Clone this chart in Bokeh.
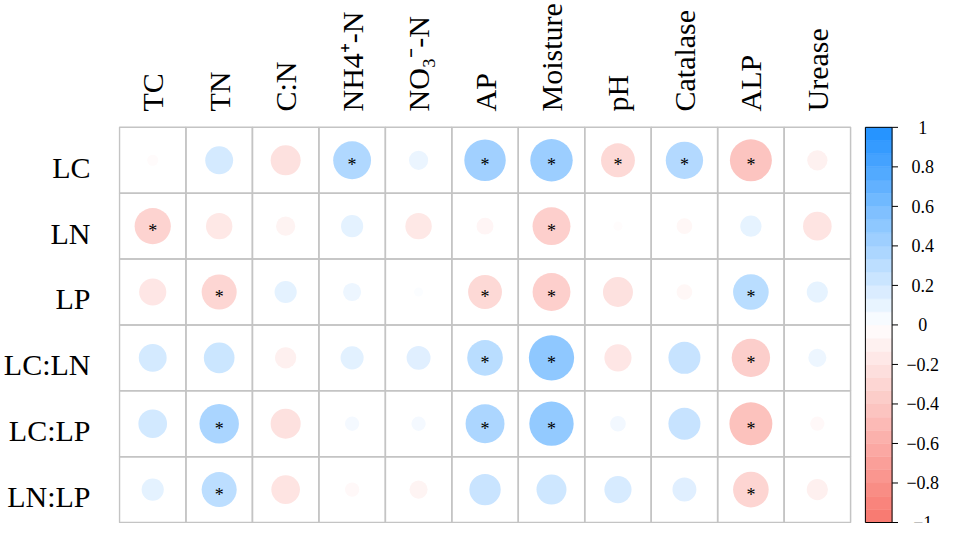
import math
from bokeh.plotting import figure
from bokeh.models import ColumnDataSource, LinearColorMapper, FixedTicker, Range1d
from bokeh.transform import transform
from bokeh.core.properties import value
from bokeh.embed import file_html
from bokeh.resources import INLINE

# ---- data ----
cols = ["TC", "TN", "C:N", "NH4\u207A-N", "NO\u2083\u207B-N", "AP",
        "Moisture", "pH", "Catalase", "ALP", "Urease"]
rows = ["LC", "LN", "LP", "LC:LN", "LC:LP", "LN:LP"]

r_LC   = [-0.03, 0.19, -0.22, 0.35, 0.09, 0.42, 0.44, -0.28, 0.34, -0.43, -0.10]
r_LN   = [-0.32, -0.17, -0.09, 0.12, -0.17, -0.07, -0.35, -0.02, -0.06, 0.11, -0.20]
r_LP   = [-0.18, -0.30, 0.12, 0.08, 0.02, -0.28, -0.35, -0.22, -0.06, 0.31, 0.11]
r_LCLN = [0.19, 0.23, -0.11, 0.13, 0.14, 0.31, 0.50, -0.18, 0.25, -0.36, 0.08]
r_LCLP = [0.20, 0.38, -0.22, 0.05, 0.05, 0.37, 0.48, 0.06, 0.25, -0.45, -0.05]
r_LNLP = [0.12, 0.30, -0.20, -0.05, -0.08, 0.24, 0.22, 0.18, 0.14, -0.31, -0.11]

sig_LC   = [0, 0, 0, 1, 0, 1, 1, 1, 1, 1, 0]
sig_LN   = [1, 0, 0, 0, 0, 0, 1, 0, 0, 0, 0]
sig_LP   = [0, 1, 0, 0, 0, 1, 1, 0, 0, 1, 0]
sig_LCLN = [0, 0, 0, 0, 0, 1, 1, 0, 0, 1, 0]
sig_LCLP = [0, 1, 0, 0, 0, 1, 1, 0, 0, 1, 0]
sig_LNLP = [0, 1, 0, 0, 0, 0, 0, 0, 0, 1, 0]

tick_values = [1, 0.8, 0.6, 0.4, 0.2, 0, -0.2, -0.4, -0.6, -0.8, -1]
tick_labels = ["1", "0.8", "0.6", "0.4", "0.2", "0",
               "\u22120.2", "\u22120.4", "\u22120.6", "\u22120.8", "\u22121"]
n_bands = 30

all_r = [r_LC, r_LN, r_LP, r_LCLN, r_LCLP, r_LNLP]
all_sig = [sig_LC, sig_LN, sig_LP, sig_LCLN, sig_LCLP, sig_LNLP]

# ---- colours ----
NEG = (248, 118, 109)
MID = (255, 255, 255)
POS = (30, 144, 255)

def mix(v):
    b = POS if v >= 0 else NEG
    t = abs(v)
    c = [round(MID[i] + (b[i] - MID[i]) * t) for i in range(3)]
    return "#%02x%02x%02x" % tuple(c)

def palette(n):
    return [mix(-1 + (i + 0.5) * 2.0 / n) for i in range(n)]

circ_mapper = LinearColorMapper(palette=palette(401), low=-1, high=1)

# ---- layout constants (pixels) ----
W, H = 939, 523
LEFT, TOP = 108, 111
TOP_GAP, BOT_GAP, LEFT_GAP = 10, 1, 1
GRID_W = 740
GRID_H = H - TOP - TOP_GAP - BOT_GAP
nR, nC = len(rows), len(cols)
CELL_W = GRID_W / nC
CELL_H = GRID_H / nR
FW = W - LEFT
FH = H - TOP

x0 = -LEFT_GAP / CELL_W
x_range = Range1d(x0, x0 + FW / CELL_W)
y0 = -BOT_GAP / CELL_H
y_range = Range1d(y0, y0 + FH / CELL_H)

# ---- sources ----
xs, ys, rs, sizes = [], [], [], []
sx, sy, st = [], [], []
MAXD = 64
for k, (row, rv, sv) in enumerate(zip(rows, all_r, all_sig)):
    for j, (col, r, s) in enumerate(zip(cols, rv, sv)):
        xs.append(j + 0.5); ys.append(nR - k - 0.5); rs.append(r)
        sizes.append(MAXD * math.sqrt(abs(r)))
        if s:
            sx.append(j + 0.5); sy.append(nR - k - 0.5); st.append("*")

src = ColumnDataSource(dict(x=xs, y=ys, r=rs, size=sizes))
src_sig = ColumnDataSource(dict(x=sx, y=sy, star=st))

FONT = "Liberation Serif"

p = figure(x_range=x_range, y_range=y_range, width=W, height=H,
           min_border=0, min_border_left=LEFT, min_border_top=TOP,
           min_border_bottom=0, min_border_right=0, x_axis_location="above",
           output_backend="svg", toolbar_location=None)

# colour-bar scale sharing the grid's pixel extent
cb_lo = -1 + (y0 / nR) * 2
cb_hi = -1 + ((y0 + FH / CELL_H) / nR) * 2
p.extra_y_ranges = {"cb": Range1d(cb_lo, cb_hi)}

p.rect(x="x", y="y", width=1, height=1, source=src,
       fill_color=None, line_color="#c4c4c4", line_width=1.5)
p.scatter(x="x", y="y", size="size", source=src,
          fill_color=transform("r", circ_mapper), line_color=None)
p.text(x="x", y="y", text="star", source=src_sig,
       text_font=value(FONT), text_font_size="18px", text_color="black",
       text_align="center", text_baseline="middle", y_offset=5)

# ---- colour bar ----
CB_X0 = nC + 15 / CELL_W
CB_X1 = CB_X0 + 27 / CELL_W
TICK_X1 = CB_X1 + 6 / CELL_W
LBL_X = CB_X1 + 31 / CELL_W
edges = [-1 + i * 2.0 / n_bands for i in range(n_bands + 1)]
band_src = ColumnDataSource(dict(bottom=edges[:-1], top=edges[1:],
                                 color=palette(n_bands)))
p.quad(left=CB_X0, right=CB_X1, bottom="bottom", top="top", source=band_src,
       fill_color="color", line_color="color", line_width=0.5, y_range_name="cb")
p.quad(left=CB_X0, right=CB_X1, bottom=min(tick_values), top=max(tick_values),
       fill_color=None, line_color="black", line_width=1, y_range_name="cb")
tick_src = ColumnDataSource(dict(y=tick_values, label=tick_labels))
p.segment(x0=CB_X1, x1=TICK_X1, y0="y", y1="y", source=tick_src,
          line_color="black", line_width=1, y_range_name="cb")
p.text(x=LBL_X, y="y", text="label", source=tick_src, y_range_name="cb",
       text_font=value(FONT), text_font_size="18px", text_color="black",
       text_align="center", text_baseline="middle")

# ---- axes ----
p.outline_line_color = None
p.grid.grid_line_color = None
p.xaxis.ticker = FixedTicker(ticks=[j + 0.5 for j in range(nC)])
p.xaxis.major_label_overrides = {j + 0.5: c for j, c in enumerate(cols)}
LABEL_DY = 7 / CELL_H
row_ticks = [nR - k - 0.5 - LABEL_DY for k in range(nR)]
p.yaxis.ticker = FixedTicker(ticks=row_ticks)
p.yaxis.major_label_overrides = {t: r for t, r in zip(row_ticks, rows)}
for ax in p.axis:
    ax.axis_line_color = None
    ax.major_tick_line_color = None
    ax.minor_tick_line_color = None
    ax.major_label_text_font = FONT
    ax.major_label_text_font_size = "30px"
    ax.major_label_text_color = "black"
p.xaxis.major_label_orientation = "vertical"
p.xaxis.major_label_standoff = 0
p.yaxis.major_label_standoff = 22

open("out.html", "w").write(file_html(p, INLINE))
